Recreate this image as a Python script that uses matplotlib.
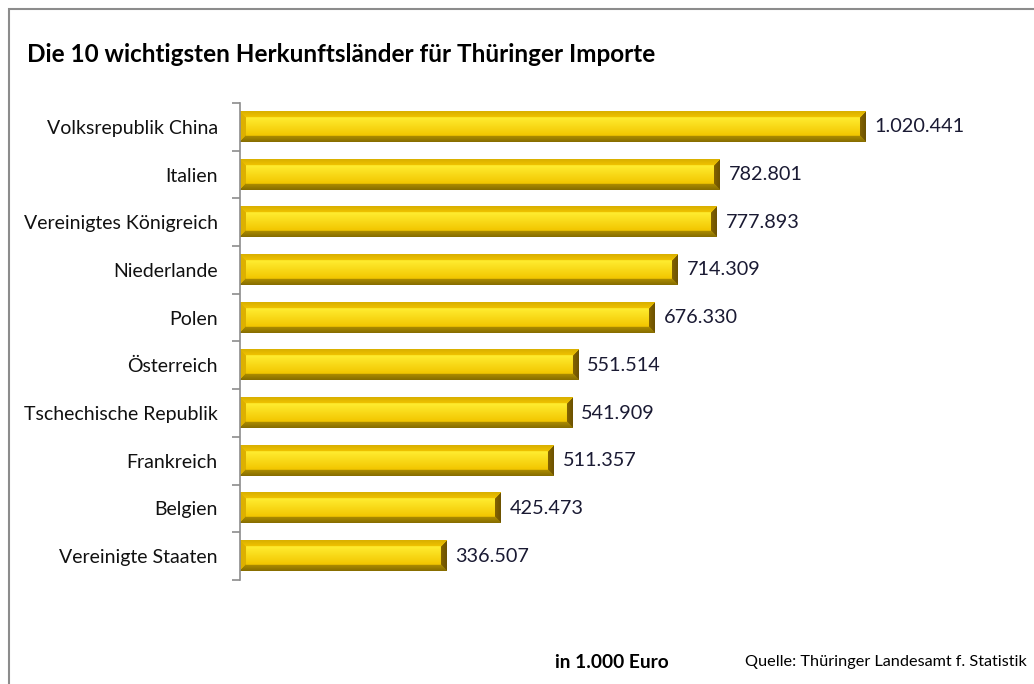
import numpy as np
import matplotlib
matplotlib.use("Agg")
import matplotlib.pyplot as plt
from matplotlib.patches import Rectangle

# Daten (in 1.000 Euro)
laender = ["Volksrepublik China", "Italien", "Vereinigtes Königreich", "Niederlande",
           "Polen", "Österreich", "Tschechische Republik", "Frankreich", "Belgien",
           "Vereinigte Staaten"]
werte = [1020441, 782801, 777893, 714309, 676330, 551514, 541909, 511357, 425473, 336507]

titel = "Die 10 wichtigsten Herkunftsländer für Thüringer Importe"
einheit = "in 1.000 Euro"
quelle = "Quelle: Thüringer Landesamt f. Statistik"

plt.rcParams['font.family'] = ['Lato', 'DejaVu Sans']

W, H = 1034, 684
fig = plt.figure(figsize=(W / 100, H / 100), dpi=100)
ax = fig.add_axes([240 / W, 1 - 580 / H, (994 - 240) / W, (580 - 103) / H])

y = np.arange(len(laender))
bh = 0.63
bars = ax.barh(y, werte, height=bh, color='none', edgecolor='none')
ax.set_xlim(0, 1230000)
ax.set_ylim(len(laender) - 0.5, -0.5)


def hexrgb(h):
    h = h.lstrip('#')
    return np.array([int(h[i:i + 2], 16) / 255 for i in (0, 2, 4)])


# Bevel-Optik (Excel-Stil) als kleines Bild pro Balken
def bevel_img(wpx, hpx, d=6):
    img = np.zeros((hpx, wpx, 3))
    oben = hexrgb('#EDC000')
    unten = hexrgb('#A08200')
    links = hexrgb('#DDB000')
    rechts = hexrgb('#7A5C00')
    face_top = hexrgb('#FFEC30')
    face_bot = hexrgb('#F2C600')
    for r in range(hpx):
        for c in range(wpx):
            dt, db, dl, dr = r, hpx - 1 - r, c, wpx - 1 - c
            m = min(dt, db, dl, dr)
            if m >= d:
                t = (r - d) / max(hpx - 2 * d - 1, 1)
                img[r, c] = face_top * (1 - t) + face_bot * t
            elif m == dt:
                img[r, c] = oben * (0.92 + 0.1 * r / d)
            elif m == db:
                img[r, c] = unten * (1.1 - 0.25 * (1 - db / d))
            elif m == dl:
                img[r, c] = links
            else:
                img[r, c] = rechts * (1.1 - 0.2 * (1 - dr / d))
    return np.clip(img, 0, 1)


px_per_x = ax.transData.transform((1, 0))[0] - ax.transData.transform((0, 0))[0]
px_per_y = abs(ax.transData.transform((0, 1))[1] - ax.transData.transform((0, 0))[1])
for b in bars:
    wpx = max(int(round(b.get_width() * px_per_x)), 20)
    hpx = int(round(b.get_height() * px_per_y))
    ax.imshow(bevel_img(wpx, hpx), extent=(b.get_x(), b.get_x() + b.get_width(),
                                          b.get_y() + b.get_height(), b.get_y()),
              aspect='auto', interpolation='bilinear', zorder=2)
ax.set_xlim(0, 1230000)
ax.set_ylim(len(laender) - 0.5, -0.5)

for b, v in zip(bars, werte):
    ax.text(b.get_width() + 15000, b.get_y() + b.get_height() / 2,
            f"{v:,}".replace(",", "."), va='center', ha='left',
            fontsize=14.3, color='#1a1a33')

# Achsen
for s in ['top', 'right', 'bottom']:
    ax.spines[s].set_visible(False)
ax.spines['left'].set_color('#8c8c8c')
ax.spines['left'].set_linewidth(1.2)
ax.set_xticks([])
ax.set_yticks(y)
ax.set_yticklabels(laender, fontsize=14, color='#111111')
ax.tick_params(axis='y', which='major', length=0, pad=16)
ax.set_yticks(np.arange(-0.5, len(laender)), minor=True)
ax.tick_params(axis='y', which='minor', length=6, color='#8c8c8c', width=1.2)

# Titel und Fußtexte
fig.text(27 / W, 1 - 55 / H, titel, fontsize=17.5, fontweight='bold',
         ha='left', va='center', color='#000000')
fig.text(555 / W, 1 - 662 / H, einheit, fontsize=13.8, fontweight='bold',
         ha='left', va='center', color='#000000')
fig.text(745 / W, 1 - 662 / H, quelle, fontsize=11.7,
         ha='left', va='center', color='#000000')

# Rahmen
fig.add_artist(Rectangle((9 / W, -0.05), 1.2, 1.05 - 9 / H, transform=fig.transFigure,
                         fill=False, edgecolor='#8c8c8c', linewidth=1.5))

fig.savefig("out.png", dpi=100)
